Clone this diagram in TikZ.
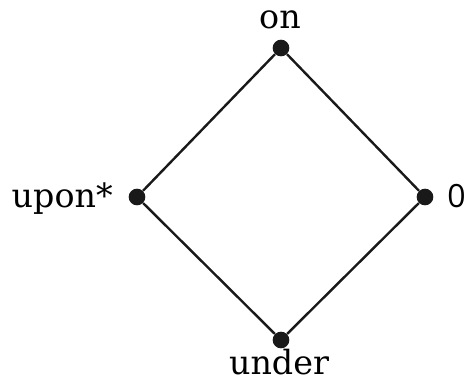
\documentclass[tikz,border=0pt]{standalone}
\usepackage{fontspec}
\newfontfamily\slabfont{DejaVu Serif}
\newfontfamily\digitfont{Open Sans}
\usetikzlibrary{positioning}

\begin{document}
\begin{tikzpicture}[
    x=0.75pt, y=-0.75pt,
    vertex/.style={circle, fill=black!90, inner sep=0pt, minimum size=12.5pt},
    edge/.style={line width=1.8pt, black!90},
    wordlabel/.style={font=\slabfont\fontsize{25}{28}\selectfont, inner sep=0pt},
    digitlabel/.style={font=\digitfont\fontsize{24}{26}\selectfont, inner sep=0pt},
  ]
  \useasboundingbox (0,0) rectangle (465,383);

  % lattice points
  \node[vertex] (on)    at (281, 48)  {};
  \node[vertex] (upon)  at (137, 197) {};
  \node[vertex] (zero)  at (425, 197) {};
  \node[vertex] (under) at (281, 340) {};

  % covering relations
  \draw[edge] (on) -- (upon);
  \draw[edge] (on) -- (zero);
  \draw[edge] (upon) -- (under);
  \draw[edge] (zero) -- (under);

  % labels
  \node[wordlabel, anchor=base] (onlabel) at (280, 28) {on};
  \node[wordlabel, anchor=base east] (uponlabel) at (113, 207) {upon*};
  \node[digitlabel, anchor=base west] (zerolabel) at (447, 207) {0};
  \node[wordlabel, anchor=base] (underlabel) at (279, 374) {under};
\end{tikzpicture}
\end{document}
